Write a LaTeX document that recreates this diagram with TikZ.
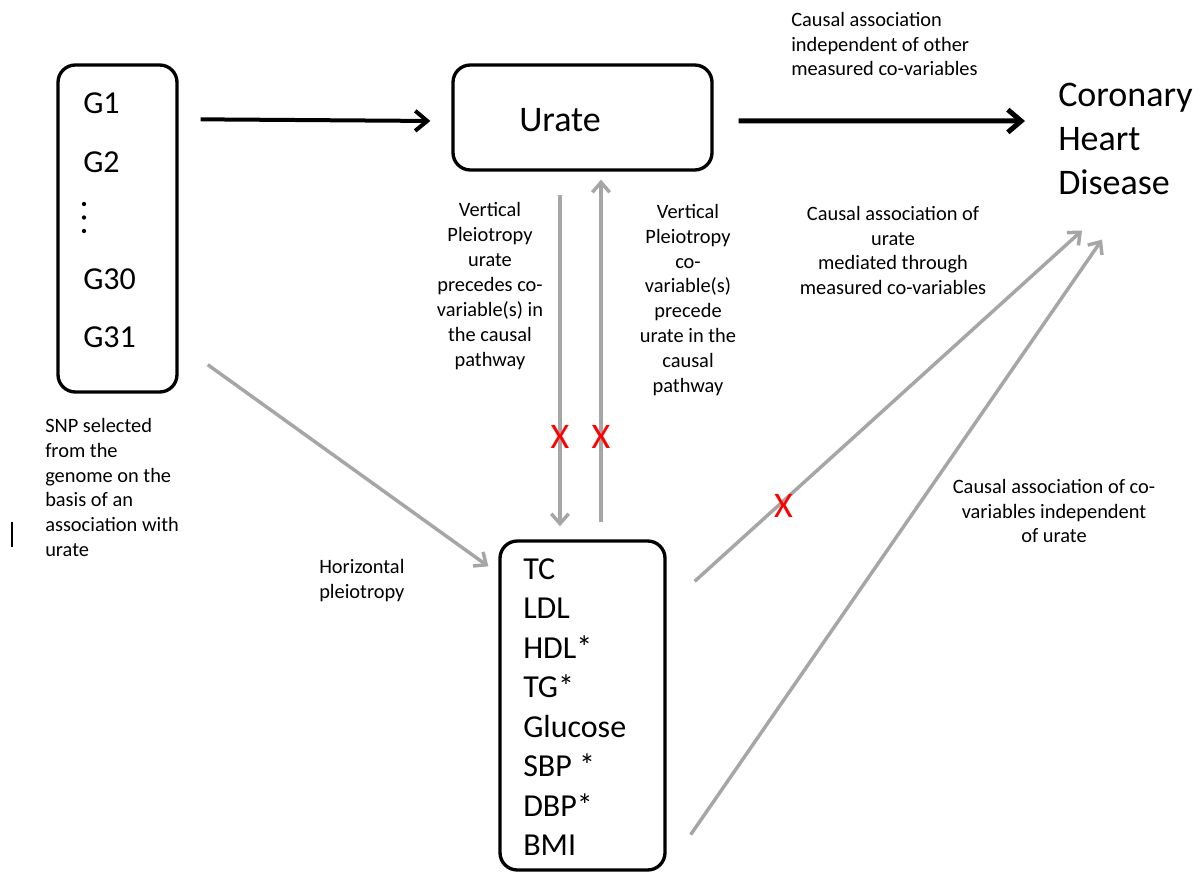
\documentclass[tikz,border=0pt]{standalone}
\usepackage{fontspec}
\setmainfont{Carlito}
\usetikzlibrary{arrows.meta,fit}
\definecolor{arrowgray}{HTML}{A6A6A6}
\definecolor{xred}{HTML}{FF0000}
\begin{document}
\begin{tikzpicture}[x=0.75pt,y=-0.75pt,
  box/.style={draw=black, line width=2.5pt, rounded corners=13pt, inner sep=0pt},
  small/.style={font=\fontsize{15.3}{18.7}\selectfont, inner sep=0pt},
  big/.style={font=\fontsize{24}{29.6}\selectfont, inner sep=0pt},
  huge/.style={font=\fontsize{27}{33}\selectfont, inner sep=0pt},
  redx/.style={font=\fontsize{27}{33}\selectfont, text=xred, inner sep=0pt},
  blackarrow/.style={draw=black, line width=3pt, -{Straight Barb[length=9pt,width=15pt]}},
  bigblackarrow/.style={draw=black, line width=3.75pt, -{Straight Barb[length=10pt,width=17pt]}},
  grayarrow/.style={draw=arrowgray, line width=2.6pt, -{Straight Barb[length=7.5pt,width=13pt]}},
  grayline/.style={draw=arrowgray, line width=2.6pt}
]
\fill[white] (0,0) rectangle (1202,873);
\useasboundingbox (0,0) rectangle (1202,873);

% boxes
\node[box, fit={(58,65)(177,392)}] (g) {};
\node[box, fit={(453,65)(712,170)}] (urate) {};
\node[box, fit={(500,541)(665,870)}] (cov) {};

% box texts
\node[big, anchor=west] (g1) at (83,103) {G1};
\node[big, anchor=west] (g2) at (83,162) {G2};
\node[big, anchor=west] (g30) at (83,279) {G30};
\node[big, anchor=west] (g31) at (83,337) {G31};
\fill (84,204) circle (1.6pt) (84,217.5) circle (1.6pt) (84,231) circle (1.6pt);
\node[huge] (uratetxt) at (560,120) {Urate};
\node[big, align=left, anchor=west] (covtxt) at (523,707)
  {TC\\LDL\\HDL*\\TG*\\Glucose\\SBP *\\DBP*\\BMI};
\node[huge, align=left, anchor=west] (chd) at (1058,139) {Coronary\\Heart\\Disease};

% labels
\node[small, align=left, anchor=west] (lab1) at (791,44)
  {Causal association\\independent of other\\measured co-variables};
\node[small, align=center] (lab2) at (490,286)
  {Vertical\\Pleiotropy\\urate\\precedes co-\\variable(s) in\\the causal\\pathway};
\node[small, align=center] (lab3) at (688,300)
  {Vertical\\Pleiotropy\\co-\\variable(s)\\precede\\urate in the\\causal\\pathway};
\node[small, align=center] (lab4) at (893,250.5)
  {Causal association of\\urate\\mediated through\\measured co-variables};
\node[small, align=center] (lab5) at (1054,511)
  {Causal association of co-\\variables independent\\of urate};
\node[small, align=left, anchor=west] (lab6) at (45,487.5)
  {SNP selected\\from the\\genome on the\\basis of an\\association with\\urate};
\node[small, align=left, anchor=west] (lab7) at (319,580.5)
  {Horizontal\\pleiotropy};

% text cursor
\draw[line width=1.3pt] (12,522) -- (12,547);

% connectors
\draw[blackarrow] ([xshift=16.5pt,yshift=-42pt]g.north east) -- ([xshift=-15.75pt,yshift=-2.6pt]urate.west);
\draw[bigblackarrow] ([xshift=18.75pt,yshift=-2.6pt]urate.east) -- ([xshift=-24.75pt,yshift=13.5pt]chd.west);

\draw[grayarrow] ([xshift=-16.9pt,yshift=-17.25pt]urate.south) --
  node[pos=0.731, redx] (x1) {X} ([xshift=-16.9pt,yshift=9.75pt]cov.north);
\draw[grayarrow] ([xshift=13.9pt,yshift=12.75pt]cov.north) --
  node[pos=0.249, redx] (x2) {X} ([xshift=13.9pt,yshift=-6pt]urate.south);

\draw[grayarrow] ([xshift=21.75pt,yshift=21.75pt]g.south east) -- ([xshift=-7.5pt,yshift=-20.25pt]cov.north west);

\draw[grayarrow] ([xshift=21pt,yshift=-31.5pt]cov.north east) --
  node[pos=0.229, redx, yshift=-3.75pt] (x3) {X} ([xshift=18pt,yshift=-26.6pt]chd.south west);
\draw[grayarrow] ([xshift=18pt,yshift=27.75pt]cov.south east) -- ([xshift=33pt,yshift=-33.4pt]chd.south west);
\end{tikzpicture}
\end{document}
